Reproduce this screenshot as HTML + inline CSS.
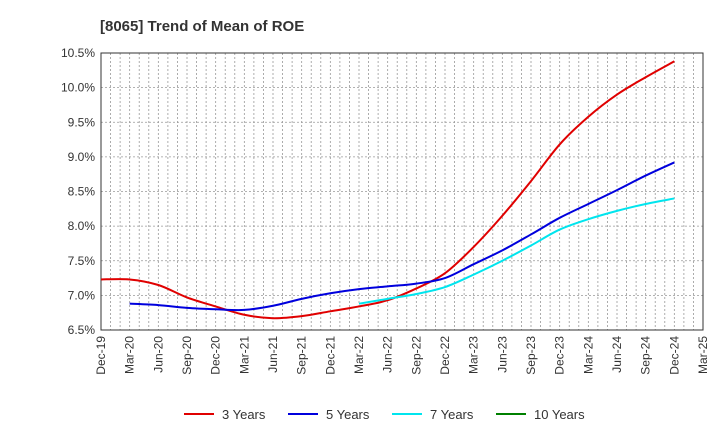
<!DOCTYPE html>
<html><head><meta charset="utf-8"><style>
body{margin:0;background:#fff;font-family:"Liberation Sans",Arial,sans-serif}
</style></head><body>
<svg id="chart" width="720" height="440" xmlns="http://www.w3.org/2000/svg" font-family="Liberation Sans, Arial, sans-serif">
<text x="100" y="31" font-size="15" font-weight="bold" fill="#333">[8065]  Trend of Mean of ROE</text>
<g id="grid"></g><g id="axes"></g><g id="series"></g><g id="legend"></g>
</svg>
<script>
const xLabels=["Dec-19","Mar-20","Jun-20","Sep-20","Dec-20","Mar-21","Jun-21","Sep-21","Dec-21","Mar-22","Jun-22","Sep-22","Dec-22","Mar-23","Jun-23","Sep-23","Dec-23","Mar-24","Jun-24","Sep-24","Dec-24","Mar-25"];
const yTicks=[6.5,7.0,7.5,8.0,8.5,9.0,9.5,10.0,10.5];
const red=[7.23,7.23,7.15,6.97,6.84,6.72,6.67,6.70,6.77,6.84,6.93,7.10,7.32,7.70,8.15,8.65,9.18,9.58,9.90,10.15,10.38];
const blue=[null,6.88,6.86,6.82,6.80,6.79,6.85,6.95,7.03,7.09,7.13,7.17,7.25,7.45,7.65,7.88,8.12,8.32,8.52,8.73,8.92];
const cyan=[null,null,null,null,null,null,null,null,null,6.88,6.95,7.02,7.12,7.30,7.50,7.72,7.95,8.10,8.22,8.32,8.40];
const green=[];
const L=101,R=703,T=53,B=330;
const X=i=>L+(R-L)*i/(xLabels.length-1);
const Y=v=>B-(v-6.5)/(10.5-6.5)*(B-T);
const NS="http://www.w3.org/2000/svg";
function mk(p,tag,a){const e=document.createElementNS(NS,tag);for(const k in a)e.setAttribute(k,a[k]);p.appendChild(e);return e;}
const grid=document.getElementById('grid'),axes=document.getElementById('axes'),ser=document.getElementById('series'),leg=document.getElementById('legend');
mk(grid,'rect',{x:L,y:T,width:R-L,height:B-T,fill:'#fff'});
for(let m=1;m<(xLabels.length-1)*3;m++){const x=L+(R-L)*m/((xLabels.length-1)*3);
const l=mk(grid,'line',{x1:x,x2:x,y1:T,y2:B,stroke:'#999','stroke-width':0.8,'stroke-dasharray':'2,2'});
}
yTicks.forEach(v=>{const y=Y(v);
const l=mk(grid,'line',{x1:L,x2:R,y1:y,y2:y,stroke:'#999','stroke-width':0.8,'stroke-dasharray':'2,2'});

const t=mk(axes,'text',{x:L-6,y:y+4,'text-anchor':'end','font-size':12,fill:'#333'});t.textContent=v.toFixed(1)+'%';
});
xLabels.forEach((s,i)=>{const x=X(i);
const t=mk(axes,'text',{x:x+4,y:B+6,'text-anchor':'end','font-size':12,fill:'#333',transform:`rotate(-90 ${x+4} ${B+6})`});t.textContent=s;
});
const fr=mk(axes,'rect',{x:L,y:T,width:R-L,height:B-T,fill:'none',stroke:'#333','stroke-width':1});

function path(arr){const p=[];arr.forEach((v,i)=>{if(v!=null)p.push([X(i),Y(v)]);});if(p.length<2)return '';
let d=`M${p[0][0]},${p[0][1]}`;for(let i=0;i<p.length-1;i++){const p0=p[i-1]||p[i],p1=p[i],p2=p[i+1],p3=p[i+2]||p2;
d+=`C${p1[0]+(p2[0]-p0[0])/6},${p1[1]+(p2[1]-p0[1])/6} ${p2[0]-(p3[0]-p1[0])/6},${p2[1]-(p3[1]-p1[1])/6} ${p2[0]},${p2[1]}`;}return d;}
const S=[["3 Years",red,"#e00000","line-3-years"],["5 Years",blue,"#0000dd","line-5-years"],["7 Years",cyan,"#00e5ee","line-7-years"],["10 Years",green,"#008000","line-10-years"]];
S.forEach(([n,a,c,id],k)=>{const d=path(a);if(d){const e=mk(ser,'path',{d,fill:'none',stroke:c,'stroke-width':2});
}
const lx=184+k*104;const g=mk(leg,'g',{});
mk(g,'line',{x1:lx,x2:lx+30,y1:414,y2:414,stroke:c,'stroke-width':2});
const t=mk(g,'text',{x:lx+38,y:419,'font-size':13,fill:'#333'});t.textContent=n;});
</script>
</body></html>
